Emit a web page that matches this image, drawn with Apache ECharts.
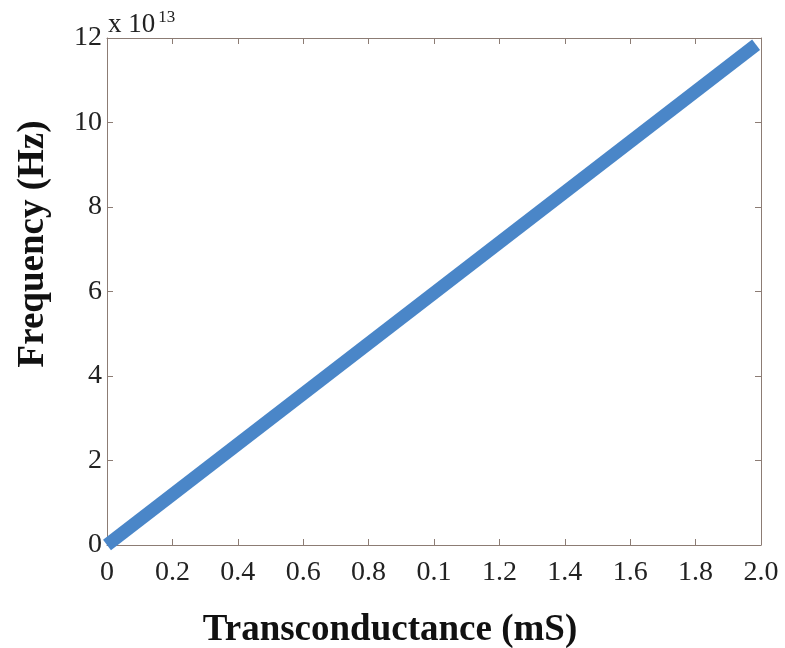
<!DOCTYPE html>
<html><head><meta charset="utf-8">
<script src="https://cdn.jsdelivr.net/npm/echarts@6/dist/echarts.min.js"></script>
<style>html,body{margin:0;padding:0;background:#fff}#c{width:785px;height:648px}</style>
</head><body><div id="c"></div>
<script>
const xTickLabels = ['0','0.2','0.4','0.6','0.8','0.1','1.2','1.4','1.6','1.8','2.0'];
const yTickLabels = ['0','2','4','6','8','10','12'];
const seriesX = [0, 1.985];
const seriesY = [0, 11.84];
const xTitle = 'Transconductance (mS)';
const yTitle = 'Frequency (Hz)';
const yScaleNote = '13';

const font = 'Liberation Serif';
const axisCol = '#8c7c74';
const chart = echarts.init(document.getElementById('c'), null, {renderer:'canvas'});
function ax(extra){
  return Object.assign({
    min: 0,
    axisLine:{show:true,onZero:false,lineStyle:{color:axisCol,width:1}},
    axisTick:{show:true,inside:true,length:6,lineStyle:{color:axisCol}},
    splitLine:{show:false}
  }, extra);
}
chart.setOption({
  animation:false,
  grid:{left:107,right:24,top:38,bottom:103,containLabel:false},
  graphic:[
    {type:'text',left:108,top:9,style:{text:'{a|x 10}{b|'+yScaleNote+'}',rich:{a:{fontFamily:font,fontSize:27,fill:'#222'},b:{fontFamily:font,fontSize:17,fill:'#222',verticalAlign:'top',padding:[0,0,14,3]}}}},
    {type:'text',x:390,y:630,style:{text:xTitle,fontFamily:font,fontSize:37,fontWeight:'bold',fill:'#111',align:'center',verticalAlign:'middle'}},
    {type:'text',x:33,y:244,rotation:Math.PI/2,style:{text:yTitle,fontFamily:font,fontSize:37,fontWeight:'bold',fill:'#111',align:'center',verticalAlign:'middle'}}
  ],
  xAxis:[
    ax({type:'value',position:'bottom',max:2,interval:0.2,
      axisLabel:{fontFamily:font,fontSize:28,color:'#222',margin:14,
        formatter:v=>xTickLabels[Math.round(v/0.2)]}}),
    ax({type:'value',position:'top',max:2,interval:0.2,axisLabel:{show:false}})
  ],
  yAxis:[
    ax({type:'value',position:'left',max:12,interval:2,
      axisLabel:{fontFamily:font,fontSize:28,color:'#222',margin:5,
        formatter:v=>yTickLabels[Math.round(v/2)]}}),
    ax({type:'value',position:'right',max:12,interval:2,axisLabel:{show:false}})
  ],
  series:[{
    type:'line',xAxisIndex:0,yAxisIndex:0,
    data:seriesX.map((x,i)=>[x,seriesY[i]]),
    showSymbol:false,symbol:'none',
    lineStyle:{color:'#4a86c8',width:13,cap:'butt'},
    clip:false
  }]
});
</script></body></html>
